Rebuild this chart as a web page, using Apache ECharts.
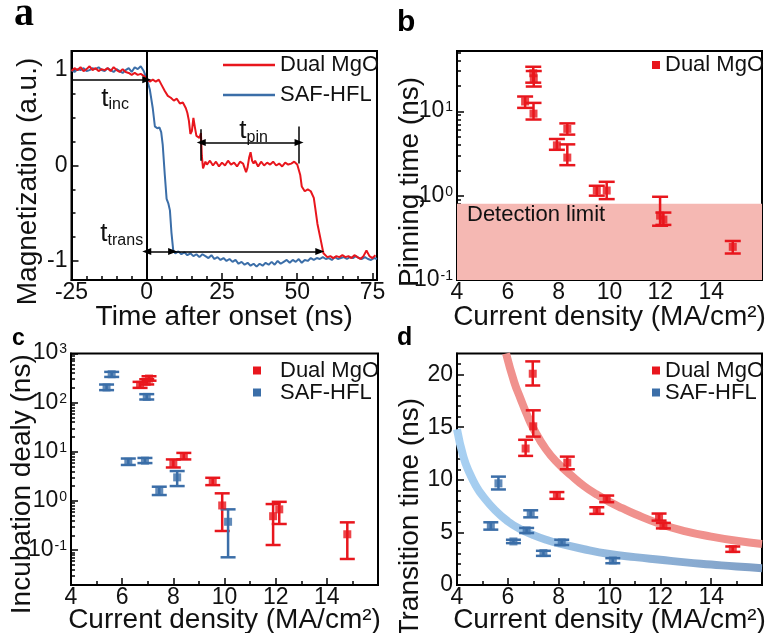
<!DOCTYPE html>
<html><head><meta charset="utf-8">
<script src="https://cdn.jsdelivr.net/npm/echarts@6/dist/echarts.min.js"></script>
<style>html,body{margin:0;padding:0;background:#fff}#c{width:767px;height:633px}</style>
</head><body><div id="c"></div>
<script>
// ---------- Panel a: magnetization traces ----------
const timeRed = [-25,-24,-23,-22,-21,-20,-19,-18,-17,-16,-15,-14,-13,-12,-11,-10,-9,-8,-7,-6,-5,-4,-3,-2,-1,0,1,2,3,4,5,6,7,8,9,10,11,12,13,13.5,14,14.5,15,15.5,16,16.5,17,17.5,18,18.3,18.7,19.5,20,21,22,23,24,25,26,27,28,29,30,31,32,32.5,33,33.5,34,34.5,35,35.5,36,37,38,39,40,41,42,43,44,45,46,47,48,49,50,50.5,51,51.5,52.5,53,53.5,54.5,55.5,56,56.7,57.8,58.7,60,61,62,63,64,65,66,67,68,69,70,71,72,73,74,75,76];
const magRed = [0.99,1.02,1.00,1.03,0.99,1.01,1.04,1.00,1.02,0.99,1.01,1.00,1.02,0.99,1.03,1.00,0.98,1.01,0.98,0.97,0.95,0.97,0.95,0.96,0.94,0.91,0.88,0.90,0.88,0.90,0.84,0.78,0.73,0.71,0.68,0.70,0.65,0.66,0.60,0.55,0.47,0.33,0.36,0.50,0.40,0.31,0.30,0.29,0.34,0.10,-0.03,0.04,0.01,0.05,0.00,0.04,-0.01,0.03,0.00,0.05,0.01,0.03,-0.01,0.04,0.02,0.00,-0.07,-0.02,0.08,0.14,0.05,0.02,0.05,-0.01,0.04,0.00,0.03,0.01,0.04,0.00,0.02,-0.01,0.03,0.01,0.02,0.04,0.01,0.03,-0.10,-0.22,-0.27,-0.29,-0.25,-0.27,-0.34,-0.45,-0.61,-0.78,-0.92,-0.96,-0.95,-0.97,-0.95,-0.96,-0.94,-0.96,-0.95,-0.97,-0.94,-0.96,-0.98,-0.95,-0.89,-0.95,-0.97,-0.94];
const timeBlue = [-25,-24,-23,-22,-21,-20,-19,-18,-17,-16,-15,-14,-13,-12,-11,-10,-9,-8,-7,-6,-5,-4,-3,-2,-1,0,1,2,2.7,3.5,4.2,4.8,5.3,6,6.6,7.2,7.7,8.2,8.8,9.5,10.5,11.5,12.5,13.5,14.5,15.5,16.5,17.5,18.5,19.5,20.5,21.5,22.5,23.5,24.5,25.5,26.5,27.5,28.5,29.5,30.5,31.5,32.5,33.5,34.5,35.5,36.5,37.5,38.5,39.5,40.5,41.5,42.5,43.5,44.5,45.5,46.5,47.5,48.5,49.5,50.5,51.5,52.5,53.5,54.5,55.5,56.5,57.5,58.5,59.5,60.5,61.5,62.5,63.5,64.5,65.5,66.5,67.5,68.5,69.5,70.5,71.5,72.5,73.5,74.5,75.5,76.5];
const magBlue = [1.00,0.98,1.01,1.00,1.02,0.99,1.00,1.02,1.01,1.03,1.00,0.99,1.02,1.00,0.98,1.01,0.99,0.97,1.00,1.02,0.98,1.03,1.01,1.04,0.99,0.91,0.80,0.60,0.41,0.39,0.40,0.35,0.22,-0.10,-0.35,-0.40,-0.47,-0.70,-0.89,-0.92,-0.90,-0.93,-0.91,-0.94,-0.92,-0.95,-0.93,-0.96,-0.93,-0.95,-0.97,-0.94,-0.98,-0.96,-0.99,-0.97,-1.00,-0.98,-1.01,-0.99,-1.03,-1.01,-1.04,-1.02,-1.05,-1.03,-1.06,-1.03,-1.05,-1.02,-1.04,-1.01,-1.04,-1.00,-1.03,-1.01,-0.99,-1.02,-0.99,-1.01,-0.98,-1.02,-0.99,-1.00,-0.97,-0.99,-0.97,-0.98,-0.96,-0.98,-0.97,-0.99,-0.96,-0.98,-0.97,-0.96,-0.98,-0.96,-0.97,-0.95,-0.97,-0.98,-0.96,-0.98,-0.99,-0.97,-0.98];

// ---------- Panel b: pinning time ----------
const pinJ  = [6.68, 7.00, 7.02, 7.01, 8.34, 7.93, 8.34, 9.50, 9.89, 11.99, 12.12, 14.85];
const pinT  = [13.1, 28.3, 24.7, 9.4, 6.2, 3.95, 2.83, 1.15, 1.15, 0.58, 0.52, 0.247];
const pinLo = [11.0, 21.9, 19.7, 8.0, 5.3, 3.5, 2.3, 1.0, 0.91, 0.44, 0.45, 0.206];
const pinHi = [15.0, 33.8, 30.1, 12.6, 7.2, 4.7, 4.06, 1.31, 1.46, 0.97, 0.63, 0.29];
const detectionLimit = 0.8;

// ---------- Panel c: incubation delay ----------
const incRedJ  = [6.70, 6.96, 7.05, 8.00, 8.41, 9.54, 9.91, 11.90, 12.14, 14.80];
const incRedT  = [230, 265, 310, 5.8, 8.2, 2.45, 0.81, 0.49, 0.675, 0.21];
const incRedLo = [200, 235, 280, 4.8, 7.0, 2.1, 0.245, 0.127, 0.34, 0.066];
const incRedHi = [265, 300, 345, 7.0, 9.5, 2.96, 1.43, 0.865, 0.96, 0.367];
const incBlueJ  = [5.39, 5.59, 6.96, 6.24, 6.89, 7.45, 8.15, 10.14];
const incBlueT  = [204, 379, 131, 6.27, 6.6, 1.61, 3.02, 0.377];
const incBlueLo = [180, 334, 116, 5.4, 5.9, 1.32, 2.01, 0.0714];
const incBlueHi = [234, 423, 149, 7.3, 7.5, 1.95, 4.06, 0.675];

// ---------- Panel d: transition time ----------
const trRedJ  = [6.98, 7.00, 6.70, 8.34, 7.93, 9.89, 9.50, 11.95, 12.12, 14.85];
const trRedT  = [20.08, 15.08, 12.97, 11.63, 8.54, 8.19, 7.07, 6.47, 5.64, 3.41];
const trRedLo = [18.96, 14.1, 12.27, 11.0, 8.19, 7.87, 6.76, 6.12, 5.38, 3.15];
const trRedHi = [21.25, 16.6, 13.8, 12.2, 8.83, 8.5, 7.39, 6.79, 5.9, 3.66];
const trBlueJ  = [5.63, 5.33, 6.22, 6.90, 6.74, 7.40, 8.12, 10.13];
const trBlueT  = [9.66, 5.64, 4.14, 6.76, 5.19, 3.03, 4.05, 2.33];
const trBlueLo = [9.08, 5.26, 3.98, 6.43, 4.94, 2.77, 3.8, 2.07];
const trBlueHi = [10.3, 5.96, 4.3, 7.1, 5.42, 3.25, 4.3, 2.55];
const fitRedJ = [5.93, 6.25, 6.5, 6.75, 7.0, 7.5, 8.0, 8.5, 9.0, 9.5, 10, 10.5, 11, 12, 13, 14, 15, 16];
const fitRedT = [22.0, 19.3, 17.7, 16.2, 14.9, 12.9, 11.5, 10.4, 9.4, 8.6, 7.9, 7.3, 6.75, 5.8, 5.1, 4.6, 4.2, 3.9];
const fitBlueJ = [4.0, 4.25, 4.5, 4.75, 5.0, 5.5, 6.0, 6.5, 7.0, 7.5, 8.0, 9.0, 10, 11, 12, 13, 14, 15, 16];
const fitBlueT = [14.8, 12.2, 10.6, 9.4, 8.5, 7.1, 6.05, 5.3, 4.75, 4.3, 3.95, 3.4, 2.95, 2.65, 2.4, 2.15, 1.95, 1.75, 1.6];

// ---------- Ticks ----------
const tickA_X = [-25, 0, 25, 50, 75];
const minorA_X = [-20,-15,-10,-5,5,10,15,20,30,35,40,45,55,60,65,70];
const tickA_Y = [-1, 0, 1];
const minorA_Y = [-0.75,-0.5,-0.25,0.25,0.5,0.75];
const tickB_Y = [0.1, 1, 10];
const minorB_Y = [0.2,0.3,0.4,0.5,0.6,0.7,0.8,0.9,2,3,4,5,6,7,8,9,20,30,40,50];
const tickC_Y = [0.1, 1, 10, 100, 1000];
const minorC_Y = [0.02,0.03,0.04,0.05,0.06,0.07,0.08,0.09,0.2,0.3,0.4,0.5,0.6,0.7,0.8,0.9,2,3,4,5,6,7,8,9,20,30,40,50,60,70,80,90,200,300,400,500,600,700,800,900];
const minorD_Y = [1,2,3,4,6,7,8,9,11,12,13,14,16,17,18,19,21];

const FF = '"Liberation Sans", Arial, sans-serif';
const INK = '#111';
const RED = '#e8161d';
const BLUE = '#3b6ea8';

const zip2 = (a, b) => a.map((v, i) => [v, b[i]]);
const zip4 = (a, b, c, d) => a.map((v, i) => [v, b[i], c[i], d[i]]);

function errRender(color, half) {
  return function (params, api) {
    const x = api.value(0), lo = api.value(2), hi = api.value(3);
    const a = api.coord([x, lo]), b = api.coord([x, hi]);
    const st = { stroke: color, lineWidth: 2.5 };
    return { type: 'group', children: [
      { type: 'line', shape: { x1: a[0], y1: a[1], x2: b[0], y2: b[1] }, style: st },
      { type: 'line', shape: { x1: a[0] - half, y1: a[1], x2: a[0] + half, y2: a[1] }, style: st },
      { type: 'line', shape: { x1: b[0] - half, y1: b[1], x2: b[0] + half, y2: b[1] }, style: st }
    ]};
  };
}
function powLabel(v) {
  const e = Math.round(Math.log10(v));
  return '{b|10}{s|' + e + '}';
}
const powRich = {
  b: { fontSize: 23, lineHeight: 22, verticalAlign: 'bottom', fontFamily: FF, color: INK },
  s: { fontSize: 14, lineHeight: 14, padding: [0, 0, 10, 1], verticalAlign: 'top', fontFamily: FF, color: INK }
};
const lineSt = { color: '#000', width: 2 };
const tickSt = { color: '#000', width: 1.5 };
const labelSt = { fontSize: 23, color: INK, fontFamily: FF };
const nameSt = (pad) => ({ fontSize: 28, color: INK, fontFamily: FF, padding: pad || 0 });

function minorAxis(kind, grid, extra) {
  return Object.assign({
    gridIndex: grid, position: kind === 'x' ? 'bottom' : 'left',
    axisLine: { show: false, onZero: false }, axisLabel: { show: false },
    splitLine: { show: false }
  }, extra);
}
function densityAxis(grid, gap) {
  return {
    type: 'value', gridIndex: grid, min: 4, max: 16, interval: 2, position: 'bottom',
    axisLine: { onZero: false, lineStyle: lineSt },
    axisTick: { inside: true, length: 7, lineStyle: tickSt },
    minorTick: { show: true, splitNumber: 2, length: 4, lineStyle: tickSt },
    axisLabel: Object.assign({ showMaxLabel: false, margin: 1 }, labelSt),
    splitLine: { show: false }, minorSplitLine: { show: false },
    name: 'Current density (MA/cm²)', nameLocation: 'middle', nameGap: gap,
    nameMoveOverlap: false, nameTextStyle: nameSt()
  };
}
const gridBase = { show: true, borderColor: '#000', borderWidth: 2, backgroundColor: 'transparent', containLabel: false, outerBoundsMode: 'none' };
const legendText = (extra) => Object.assign({ fontSize: 22, color: INK, fontFamily: FF }, extra);

const option = {
  animation: false,
  textStyle: { fontFamily: FF },
  title: [
    { text: 'a', left: 14, top: -5, padding: 0, textStyle: { fontFamily: '"Liberation Serif", serif', fontWeight: 'bold', fontSize: 40, color: '#000' } },
    { text: 'b', left: 397, top: 8, padding: 0, textStyle: { fontFamily: FF, fontWeight: 'bold', fontSize: 30, color: '#000' } },
    { text: 'c', left: 12, top: 327, padding: 0, textStyle: { fontFamily: FF, fontWeight: 'bold', fontSize: 23, color: '#000' } },
    { text: 'd', left: 397, top: 326, padding: 0, textStyle: { fontFamily: FF, fontWeight: 'bold', fontSize: 25, color: '#000' } }
  ],
  legend: [
    { left: 223, top: 53, padding: 0, orient: 'vertical', icon: 'rect', itemWidth: 52, itemHeight: 2.5, itemGap: 6, selectedMode: false,
      data: ['Dual MgO', 'SAF-HFL'], textStyle: legendText({ lineHeight: 24 }) },
    { left: 652, top: 53, padding: 0, orient: 'vertical', icon: 'rect', itemWidth: 8, itemHeight: 8, selectedMode: false,
      data: ['Dual MgO'], textStyle: legendText({ lineHeight: 24 }) },
    { left: 253, top: 359.5, padding: 0, orient: 'vertical', icon: 'rect', itemWidth: 8, itemHeight: 8, itemGap: 0, selectedMode: false,
      data: ['Dual MgO', 'SAF-HFL'], textStyle: legendText({ lineHeight: 21, padding: [0, 0, 0, 14] }) },
    { left: 652, top: 359.5, padding: 0, orient: 'vertical', icon: 'rect', itemWidth: 8, itemHeight: 8, itemGap: 0, selectedMode: false,
      data: ['Dual MgO', 'SAF-HFL'], textStyle: legendText({ lineHeight: 21 }) }
  ],
  grid: [
    Object.assign({ left: 71.5, top: 51, width: 305.5, height: 229 }, gridBase),
    Object.assign({ left: 457, top: 51, width: 305, height: 229 }, gridBase),
    Object.assign({ left: 71, top: 353.5, width: 307, height: 231.5 }, gridBase),
    Object.assign({ left: 457, top: 353.5, width: 305, height: 231.5 }, gridBase)
  ],
  xAxis: [
    { type: 'value', gridIndex: 0, min: -25, max: 76.5, position: 'bottom',
      axisLine: { onZero: false, lineStyle: lineSt },
      axisTick: { inside: true, length: 7, lineStyle: tickSt, customValues: tickA_X },
      axisLabel: Object.assign({ customValues: tickA_X, margin: 1 }, labelSt),
      splitLine: { show: false },
      name: 'Time after onset (ns)', nameLocation: 'middle', nameGap: 23, nameMoveOverlap: false, nameTextStyle: nameSt() },
    minorAxis('x', 0, { type: 'value', min: -25, max: 76.5, axisTick: { inside: true, length: 4, lineStyle: tickSt, customValues: minorA_X } }),
    densityAxis(1, 23),
    densityAxis(2, 21),
    densityAxis(3, 21)
  ],
  yAxis: [
    { type: 'value', gridIndex: 0, min: -1.2, max: 1.2, position: 'left',
      axisLine: { onZero: false, lineStyle: lineSt },
      axisTick: { inside: true, length: 7, lineStyle: tickSt, customValues: tickA_Y },
      axisLabel: Object.assign({ customValues: tickA_Y, margin: 4 }, labelSt),
      splitLine: { show: false },
      name: 'Magnetization (a.u.)', nameLocation: 'middle', nameGap: 29, nameMoveOverlap: false, nameTextStyle: nameSt([0, 32, 0, 0]) },
    minorAxis('y', 0, { type: 'value', min: -1.2, max: 1.2, axisTick: { inside: true, length: 4, lineStyle: tickSt, customValues: minorA_Y } }),
    { type: 'log', logBase: 10, gridIndex: 1, min: 0.0999, max: 52, position: 'left',
      axisLine: { onZero: false, lineStyle: lineSt },
      axisTick: { inside: true, length: 7, lineStyle: tickSt, customValues: tickB_Y },
      axisLabel: { customValues: tickB_Y, formatter: powLabel, rich: powRich, margin: 4 },
      splitLine: { show: false },
      name: 'Pinning time (ns)', nameLocation: 'middle', nameGap: 33, nameMoveOverlap: false, nameTextStyle: nameSt([0, 33, 0, 0]) },
    minorAxis('y', 1, { type: 'log', logBase: 10, min: 0.0999, max: 52, axisTick: { inside: true, length: 4, lineStyle: tickSt, customValues: minorB_Y } }),
    { type: 'log', logBase: 10, gridIndex: 2, min: 0.0195, max: 1001, position: 'left',
      axisLine: { onZero: false, lineStyle: lineSt },
      axisTick: { inside: true, length: 7, lineStyle: tickSt, customValues: tickC_Y },
      axisLabel: { customValues: tickC_Y, formatter: powLabel, rich: powRich, margin: 4 },
      splitLine: { show: false },
      name: 'Incubation dealy (ns)', nameLocation: 'middle', nameGap: 35, nameMoveOverlap: false, nameTextStyle: nameSt([0, 30, 0, 0]) },
    minorAxis('y', 2, { type: 'log', logBase: 10, min: 0.0195, max: 1001, axisTick: { inside: true, length: 4, lineStyle: tickSt, customValues: minorC_Y } }),
    { type: 'value', gridIndex: 3, min: 0, max: 22, interval: 5, position: 'left',
      axisLine: { onZero: false, lineStyle: lineSt },
      axisTick: { inside: true, length: 7, lineStyle: tickSt },
      axisLabel: Object.assign({ showMaxLabel: false, margin: 4 }, labelSt),
      splitLine: { show: false },
      name: 'Transition time (ns)', nameLocation: 'middle', nameGap: 33, nameMoveOverlap: false, nameTextStyle: nameSt([0, 96, 0, 0]) },
    minorAxis('y', 3, { type: 'value', min: 0, max: 22, axisTick: { inside: true, length: 4, lineStyle: tickSt, customValues: minorD_Y } })
  ],
  series: [
    // ----- a -----
    { type: 'line', name: 'SAF-HFL', xAxisIndex: 0, yAxisIndex: 0, data: zip2(timeBlue, magBlue),
      symbol: 'none', z: 2, itemStyle: { color: BLUE }, lineStyle: { color: BLUE, width: 2 } },
    { type: 'line', name: 'Dual MgO', xAxisIndex: 0, yAxisIndex: 0, data: zip2(timeRed, magRed),
      symbol: 'none', z: 3, itemStyle: { color: RED }, lineStyle: { color: RED, width: 2 },
      markLine: {
        silent: true, animation: false, symbol: ['none', 'none'], symbolSize: [7, 9], label: { show: false },
        lineStyle: { color: '#000', width: 1.5, type: 'solid' },
        data: [
          { xAxis: 0, lineStyle: { color: '#000', width: 2, type: 'solid' } },
          [{ coord: [-25, 0.9], symbol: 'none' }, { coord: [0, 0.9], symbol: 'triangle' }],
          [{ coord: [18.1, 0.24], symbol: 'triangle' }, { coord: [50.6, 0.24], symbol: 'triangle' }],
          [{ coord: [18.1, 0.05], symbol: 'none' }, { coord: [18.1, 0.38], symbol: 'none' }],
          [{ coord: [50.6, 0.02], symbol: 'none' }, { coord: [50.6, 0.41], symbol: 'none' }],
          [{ coord: [0, -0.9], symbol: 'triangle' }, { coord: [8.6, -0.9], symbol: 'triangle' }],
          [{ coord: [8.6, -0.9], symbol: 'none' }, { coord: [57.5, -0.9], symbol: 'triangle' }]
        ]
      },
      markPoint: {
        silent: true, animation: false, symbol: 'rect', symbolSize: 1, itemStyle: { color: 'rgba(0,0,0,0)' },
        label: { show: true, position: 'inside', color: INK,
          rich: { t: { fontSize: 26, lineHeight: 26, fontFamily: FF, color: INK },
                  s: { fontSize: 16, lineHeight: 14, padding: [12, 0, 0, 0], fontFamily: FF, color: INK } } },
        data: [
          { coord: [-10.5, 0.70], label: { formatter: '{t|t}{s|inc}' } },
          { coord: [35.5, 0.36], label: { formatter: '{t|t}{s|pin}' } },
          { coord: [-8.3, -0.72], label: { formatter: '{t|t}{s|trans}' } }
        ]
      } },
    // ----- b -----
    { type: 'line', name: 'detband', xAxisIndex: 2, yAxisIndex: 2, data: [], z: 1,
      markArea: { silent: true, animation: false, itemStyle: { color: '#f5b8b3' },
        label: { show: true, position: 'insideTopLeft', formatter: 'Detection limit', fontSize: 22, color: INK, fontFamily: FF, offset: [5, -5] },
        data: [[{ coord: [4, 0.0999] }, { coord: [16, detectionLimit] }]] } },
    { type: 'custom', name: 'pinErr', xAxisIndex: 2, yAxisIndex: 2, z: 3, renderItem: errRender(RED, 8),
      encode: { x: 0, y: 1 }, data: zip4(pinJ, pinT, pinLo, pinHi) },
    { type: 'scatter', name: 'Dual MgO', xAxisIndex: 2, yAxisIndex: 2, z: 4, symbol: 'rect', symbolSize: 8,
      itemStyle: { color: RED }, data: zip2(pinJ, pinT) },
    // ----- c -----
    { type: 'custom', name: 'incErrR', xAxisIndex: 3, yAxisIndex: 4, z: 3, renderItem: errRender(RED, 7.5),
      encode: { x: 0, y: 1 }, data: zip4(incRedJ, incRedT, incRedLo, incRedHi) },
    { type: 'custom', name: 'incErrB', xAxisIndex: 3, yAxisIndex: 4, z: 3, renderItem: errRender(BLUE, 7.5),
      encode: { x: 0, y: 1 }, data: zip4(incBlueJ, incBlueT, incBlueLo, incBlueHi) },
    { type: 'scatter', name: 'Dual MgO', xAxisIndex: 3, yAxisIndex: 4, z: 4, symbol: 'rect', symbolSize: 8,
      itemStyle: { color: RED }, data: zip2(incRedJ, incRedT) },
    { type: 'scatter', name: 'SAF-HFL', xAxisIndex: 3, yAxisIndex: 4, z: 4, symbol: 'rect', symbolSize: 8,
      itemStyle: { color: BLUE }, data: zip2(incBlueJ, incBlueT) },
    // ----- d -----
    { type: 'line', name: 'fitRed', xAxisIndex: 4, yAxisIndex: 6, z: 2, smooth: true, symbol: 'none',
      lineStyle: { color: '#f0918d', width: 8 }, data: zip2(fitRedJ, fitRedT) },
    { type: 'line', name: 'fitBlue', xAxisIndex: 4, yAxisIndex: 6, z: 2, smooth: true, symbol: 'none',
      lineStyle: { width: 8, color: { type: 'linear', x: 0, y: 0, x2: 1, y2: 0,
        colorStops: [{ offset: 0, color: '#a8d1f3' }, { offset: 1, color: '#7f9fc6' }] } },
      data: zip2(fitBlueJ, fitBlueT) },
    { type: 'custom', name: 'trErrR', xAxisIndex: 4, yAxisIndex: 6, z: 3, renderItem: errRender(RED, 7.5),
      encode: { x: 0, y: 1 }, data: zip4(trRedJ, trRedT, trRedLo, trRedHi) },
    { type: 'custom', name: 'trErrB', xAxisIndex: 4, yAxisIndex: 6, z: 3, renderItem: errRender(BLUE, 7.5),
      encode: { x: 0, y: 1 }, data: zip4(trBlueJ, trBlueT, trBlueLo, trBlueHi) },
    { type: 'scatter', name: 'Dual MgO', xAxisIndex: 4, yAxisIndex: 6, z: 4, symbol: 'rect', symbolSize: 8,
      itemStyle: { color: RED }, data: zip2(trRedJ, trRedT) },
    { type: 'scatter', name: 'SAF-HFL', xAxisIndex: 4, yAxisIndex: 6, z: 4, symbol: 'rect', symbolSize: 8,
      itemStyle: { color: BLUE }, data: zip2(trBlueJ, trBlueT) }
  ]
};
const chart = echarts.init(document.getElementById('c'));
chart.setOption(option);
</script>
</body></html>
